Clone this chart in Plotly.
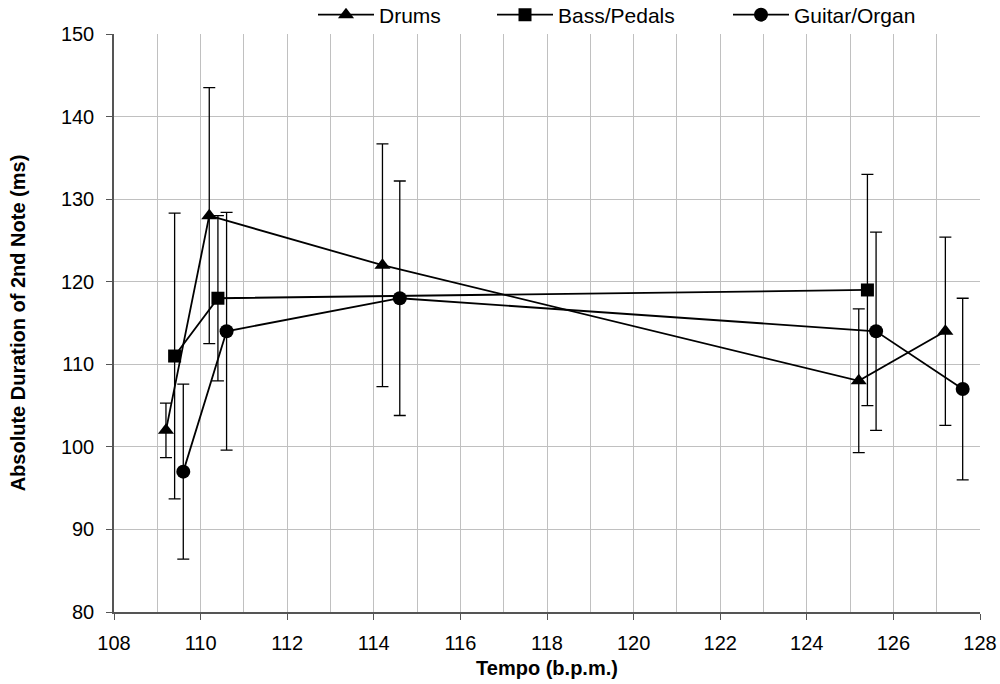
import plotly.graph_objects as go

drums_x = [109.2, 110.2, 114.2, 125.2, 127.2]
drums_y = [102, 128, 122, 108, 114]
drums_err = [3.3, 15.5, 14.7, 8.7, 11.4]

bass_x = [109.4, 110.4, 125.4]
bass_y = [111, 118, 119]
bass_err = [17.3, 10, 14]

guitar_x = [109.6, 110.6, 114.6, 125.6, 127.6]
guitar_y = [97, 114, 118, 114, 107]
guitar_err = [10.6, 14.4, 14.2, 12, 11]

series = [
    ("Drums", drums_x, drums_y, drums_err, "triangle-up", 14, "legend"),
    ("Bass/Pedals", bass_x, bass_y, bass_err, "square", 13, "legend2"),
    ("Guitar/Organ", guitar_x, guitar_y, guitar_err, "circle", 14, "legend3"),
]

fig = go.Figure()
for name, xs, ys, es, sym, sz, lg in series:
    fig.add_trace(go.Scatter(
        x=xs, y=ys, name=name, mode="lines+markers", legend=lg,
        line=dict(color="black", width=1.8),
        marker=dict(symbol=sym, size=sz, color="black"),
        error_y=dict(type="data", array=es, symmetric=True,
                     color="black", thickness=1.3, width=6),
    ))

font = "Liberation Sans, Arial, sans-serif"
leg_common = dict(orientation="h", xref="container", yref="container",
                  y=1 - 15 / 684, yanchor="middle", xanchor="left",
                  font=dict(size=21, family=font, color="black"),
                  bgcolor="rgba(0,0,0,0)", itemwidth=56)
fig.update_layout(
    width=1000, height=684,
    margin=dict(l=114, r=20, t=34, b=72, autoexpand=False),
    paper_bgcolor="white", plot_bgcolor="white",
    font=dict(family=font, size=20, color="black"),
    showlegend=True,
    legend=dict(leg_common, x=313 / 1000),
    legend2=dict(leg_common, x=492 / 1000),
    legend3=dict(leg_common, x=728 / 1000),
    xaxis=dict(
        range=[108, 128], dtick=2, tick0=108,
        showgrid=True, gridcolor="#c0c0c0", gridwidth=1,
        minor=dict(dtick=1, showgrid=True, gridcolor="#c0c0c0", gridwidth=1),
        showline=True, linecolor="#555555", linewidth=1.5,
        ticks="outside", ticklen=6, tickcolor="#555555",
        ticklabelstandoff=6,
        zeroline=False,
        title=dict(text="<b>Tempo (b.p.m.)</b>", font=dict(size=20), standoff=8),
    ),
    yaxis=dict(
        range=[80, 150], dtick=10,
        showgrid=True, gridcolor="#c0c0c0", gridwidth=1,
        showline=True, linecolor="#555555", linewidth=1.5,
        ticks="outside", ticklen=6, tickcolor="#555555",
        ticklabelstandoff=8,
        zeroline=False,
        title=dict(text="<b>Absolute Duration of 2nd Note (ms)</b>", font=dict(size=20), standoff=30),
    ),
)

fig.write_html("out.html")
